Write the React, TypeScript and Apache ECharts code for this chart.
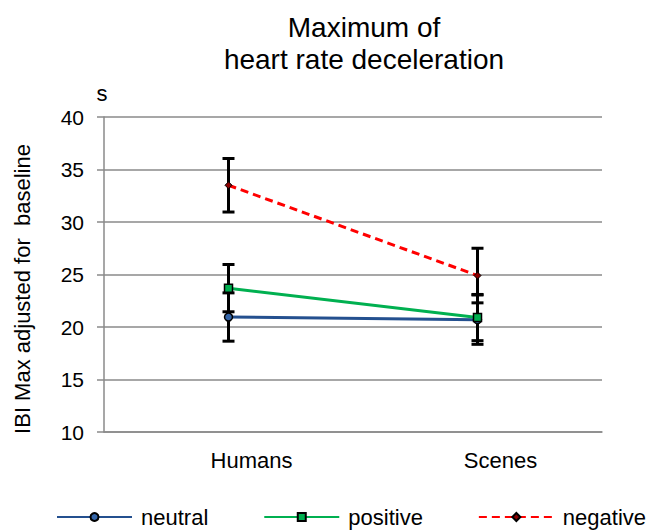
import React, { useEffect, useRef } from "react";
import * as echarts from "echarts";

const categories = ["Humans", "Scenes"];
const seriesNames = ["neutral", "positive", "negative"];
const neutralValues = [20.95, 20.7];
const positiveValues = [23.7, 20.9];
const negativeValues = [33.5, 24.9];
const neutralErr = [2.3, 2.35];
const positiveErr = [2.25, 2.2];
const negativeErr = [2.55, 2.6];
const yTicks = { min: 10, max: 40, interval: 5 };

const FONT = "'Liberation Sans', Arial, sans-serif";

export default function App() {
  const ref = useRef<HTMLDivElement>(null);
  useEffect(() => {
    if (!ref.current) return;
    document.body.style.margin = "0";
    const chart = echarts.init(ref.current, null, { renderer: "svg" });
    const values = [neutralValues, positiveValues, negativeValues];
    const errs = [neutralErr, positiveErr, negativeErr];
    const errData: number[][] = [];
    values.forEach((vals, s) => {
      vals.forEach((v, i) => {
        errData.push([i, v - errs[s][i], v + errs[s][i]]);
      });
    });
    chart.setOption({
      animation: false,
      textStyle: { fontFamily: FONT },
      grid: { left: 104, right: 48, top: 117, bottom: 98 },
      graphic: [
        {
          type: "text",
          x: 364,
          y: 27,
          style: {
            text: "Maximum of",
            font: `28px ${FONT}`,
            fill: "#000",
            textAlign: "center",
            textVerticalAlign: "middle",
          },
        },
        {
          type: "text",
          x: 364,
          y: 59,
          style: {
            text: "heart rate deceleration",
            font: `28px ${FONT}`,
            fill: "#000",
            textAlign: "center",
            textVerticalAlign: "middle",
          },
        },
        {
          type: "text",
          x: 102,
          y: 93,
          style: {
            text: "s",
            font: `22px ${FONT}`,
            fill: "#000",
            textAlign: "center",
            textVerticalAlign: "middle",
          },
        },
        {
          type: "text",
          x: 22,
          y: 289,
          rotation: Math.PI / 2,
          style: {
            text: "IBI Max adjusted for  baseline",
            font: `22px ${FONT}`,
            fill: "#000",
            textAlign: "center",
            textVerticalAlign: "middle",
          },
        },
      ],
      legend: {
        data: seriesNames,
        orient: "horizontal",
        left: 56,
        top: 506,
        width: 594,
        padding: 0,
        itemWidth: 75,
        itemHeight: 10,
        itemGap: 55,
        textStyle: { fontSize: 22, color: "#000", fontFamily: FONT, padding: [0, 0, 0, 4] },
      },
      xAxis: {
        type: "category",
        data: categories,
        boundaryGap: true,
        axisLine: { show: true, lineStyle: { color: "#8a8a8a", width: 1.5 } },
        axisTick: { show: false },
        axisLabel: {
          fontSize: 22,
          color: "#000",
          margin: 17,
          padding: [0, 0, 0, 46],
        },
        splitLine: { show: false },
      },
      yAxis: {
        type: "value",
        min: yTicks.min,
        max: yTicks.max,
        interval: yTicks.interval,
        axisLine: { show: true, lineStyle: { color: "#8a8a8a", width: 1.5 } },
        axisTick: { show: true, inside: false, length: 7, lineStyle: { color: "#8a8a8a", width: 1.5 } },
        axisLabel: { fontSize: 21, color: "#000", margin: 20 },
        splitLine: { show: true, lineStyle: { color: "#8a8a8a", width: 1.5 } },
      },
      series: [
        {
          type: "custom",
          name: "err",
          z: 1,
          data: errData,
          renderItem: (params: any, api: any) => {
            const x = api.value(0);
            const lo = api.coord([x, api.value(1)]);
            const hi = api.coord([x, api.value(2)]);
            const hw = 6;
            const style = { stroke: "#000", lineWidth: 3 };
            return {
              type: "group",
              children: [
                { type: "line", shape: { x1: lo[0], y1: lo[1], x2: hi[0], y2: hi[1] }, style },
                { type: "line", shape: { x1: lo[0] - hw, y1: lo[1], x2: lo[0] + hw, y2: lo[1] }, style },
                { type: "line", shape: { x1: hi[0] - hw, y1: hi[1], x2: hi[0] + hw, y2: hi[1] }, style },
              ],
            };
          },
        },
        {
          type: "line",
          name: "neutral",
          z: 3,
          data: neutralValues,
          symbol: "circle",
          symbolSize: 8,
          lineStyle: { color: "#24508f", width: 3 },
          itemStyle: { color: "#3465a8", borderColor: "#000", borderWidth: 1.5 },
        },
        {
          type: "line",
          name: "positive",
          z: 3,
          data: positiveValues,
          symbol: "rect",
          symbolSize: 8,
          lineStyle: { color: "#00b050", width: 3 },
          itemStyle: { color: "#00b050", borderColor: "#000", borderWidth: 1.5 },
        },
        {
          type: "line",
          name: "negative",
          z: 3,
          data: negativeValues,
          symbol: "diamond",
          symbolSize: 7,
          lineStyle: { color: "#ff0000", width: 3, type: [8, 5] },
          itemStyle: { color: "#8b0000", borderColor: "#000", borderWidth: 1 },
        },
      ],
    });
    return () => chart.dispose();
  }, []);
  return <div ref={ref} style={{ width: 650, height: 530 }} />;
}
